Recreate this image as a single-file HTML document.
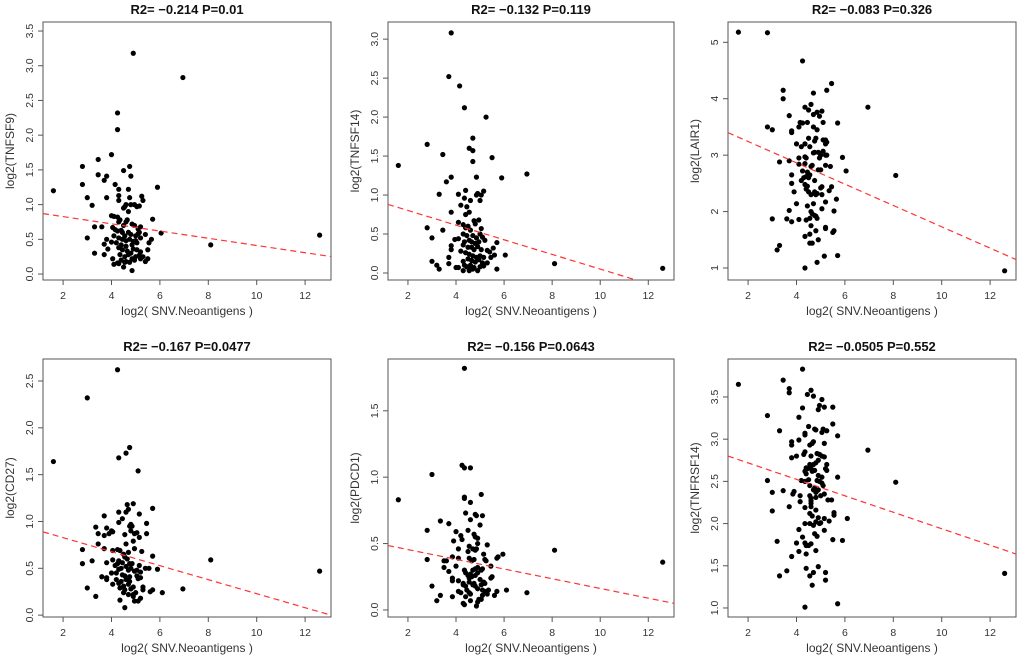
<!DOCTYPE html>
<html><head><meta charset="utf-8"><style>
html,body{margin:0;padding:0;background:#fff;}
svg{display:block;font-family:"Liberation Sans",Arial,sans-serif;}
</style></head><body>
<svg id="chart" width="1020" height="657" viewBox="0 0 1020 657" xmlns="http://www.w3.org/2000/svg"></svg>
<script>
const xTicks=[2,4,6,8,10,12];
const xDomain=[1.17,13.07];
const titles=["R2= \u22120.214 P=0.01","R2= \u22120.132 P=0.119","R2= \u22120.083 P=0.326","R2= \u22120.167 P=0.0477","R2= \u22120.156 P=0.0643","R2= \u22120.0505 P=0.552"];
const yLabels=["log2(TNFSF9)","log2(TNFSF14)","log2(LAIR1)","log2(CD27)","log2(PDCD1)","log2(TNFRSF14)"];
const yDomains=[[-0.086,3.63],[-0.09,3.22],[0.787,5.36],[-0.02,2.735],[-0.053,1.89],[0.893,3.95]];
const yTicks1=[0,0.5,1.0,1.5,2.0,2.5,3.0,3.5];
const yTicks2=[0,0.5,1.0,1.5,2.0,2.5,3.0];
const yTicks3=[1,2,3,4,5];
const yTicks4=[0,0.5,1.0,1.5,2.0,2.5];
const yTicks5=[0,0.5,1.0,1.5];
const yTicks6=[1.0,1.5,2.0,2.5,3.0,3.5];
const fitSlopes=[-0.052,-0.094,-0.189,-0.0748,-0.0366,-0.0975];
const fitIntercepts=[0.931,0.99,3.62,0.977,0.528,2.914];
const p1=[[1.6,1.2],[4.9,3.18],[6.95,2.83],[4.25,2.32],[4.25,2.08],[4.0,1.72],[3.45,1.65],[2.8,1.55],[2.8,1.29],[3.45,1.43],[3.8,1.41],[3.7,1.35],[4.15,1.29],[4.5,1.49],[4.75,1.55],[4.8,1.41],[5.9,1.25],[3.0,1.1],[3.2,0.99],[3.8,1.1],[4.3,1.22],[4.3,1.13],[4.3,1.06],[4.7,1.22],[4.75,1.1],[5.25,1.12],[5.3,1.06],[5.7,0.79],[6.05,0.59],[8.1,0.42],[12.6,0.56],[3.3,0.68],[3.6,0.68],[3.0,0.52],[3.3,0.3],[3.7,0.43],[3.7,0.28],[3.8,0.5],[3.85,0.36],[4.0,0.46],[4.05,0.22],[4.1,0.14],[4.25,0.16],[4.5,0.1],[4.85,0.05],[5.4,0.18],[5.5,0.22],[5.65,0.5],[5.5,0.35],[5.55,0.45],[5.4,0.57],[4.0,0.84],[4.1,0.83],[4.25,0.82],[4.35,0.78],[4.3,0.75],[4.5,0.95],[4.55,0.97],[4.6,1.0],[4.7,0.9],[4.8,1.0],[4.95,1.0],[5.05,0.97],[5.15,0.98],[4.5,0.7],[4.6,0.75],[4.65,0.78],[4.85,0.72],[4.95,0.7],[5.1,0.65],[5.2,0.68],[5.15,0.6],[4.05,0.67],[4.15,0.64],[4.25,0.62],[4.4,0.63],[4.45,0.6],[4.55,0.55],[4.7,0.6],[4.8,0.57],[5.0,0.55],[5.1,0.58],[4.1,0.55],[4.3,0.52],[4.45,0.5],[4.6,0.48],[4.75,0.5],[4.9,0.47],[5.0,0.48],[5.2,0.52],[4.2,0.45],[4.4,0.42],[4.6,0.4],[4.85,0.42],[5.05,0.45],[4.3,0.38],[4.45,0.35],[4.65,0.33],[4.8,0.3],[4.9,0.36],[5.05,0.35],[5.2,0.32],[4.35,0.28],[4.55,0.25],[4.7,0.28],[4.85,0.22],[5.0,0.25],[5.15,0.27],[5.3,0.25],[4.4,0.2],[4.6,0.18],[4.75,0.17],[4.95,0.2],[5.2,0.22],[4.3,0.15],[4.55,0.17]];
const p2=[[1.6,1.38],[3.8,3.08],[3.7,2.52],[4.15,2.4],[4.35,2.12],[5.25,2.0],[2.8,1.65],[3.45,1.52],[4.7,1.73],[4.55,1.6],[4.7,1.57],[4.7,1.43],[5.5,1.48],[3.8,1.23],[3.6,1.17],[4.85,1.23],[5.9,1.22],[6.95,1.27],[3.3,1.01],[4.1,1.01],[4.35,0.96],[4.4,1.06],[4.6,0.93],[4.85,1.0],[4.9,1.02],[5.0,0.93],[5.05,1.0],[5.15,1.05],[3.8,0.78],[4.2,0.87],[4.45,0.85],[4.4,0.75],[4.55,0.78],[4.1,0.65],[2.8,0.58],[3.0,0.45],[3.45,0.55],[3.0,0.15],[3.2,0.1],[3.3,0.05],[3.7,0.2],[3.7,0.12],[3.8,0.35],[3.8,0.3],[3.95,0.43],[4.0,0.07],[4.1,0.07],[4.3,0.03],[4.55,0.03],[4.9,0.03],[5.3,0.13],[5.7,0.05],[5.7,0.39],[5.55,0.32],[5.6,0.23],[6.05,0.23],[8.1,0.12],[12.6,0.06],[4.3,0.62],[4.4,0.58],[4.5,0.6],[4.6,0.55],[4.75,0.67],[4.8,0.63],[4.95,0.68],[5.05,0.57],[5.0,0.5],[4.3,0.5],[4.45,0.48],[4.7,0.48],[4.85,0.45],[5.1,0.46],[5.2,0.42],[4.1,0.44],[4.35,0.4],[4.55,0.42],[4.65,0.4],[4.8,0.38],[4.95,0.4],[4.3,0.36],[4.5,0.33],[4.65,0.33],[4.75,0.3],[4.9,0.34],[5.05,0.3],[5.3,0.29],[5.4,0.27],[4.2,0.28],[4.4,0.26],[4.55,0.24],[4.7,0.22],[4.85,0.2],[5.0,0.22],[5.15,0.2],[5.45,0.2],[4.3,0.15],[4.5,0.18],[4.65,0.16],[4.8,0.14],[4.95,0.17],[5.1,0.13],[4.35,0.1],[4.45,0.08],[4.6,0.1],[4.75,0.07],[5.0,0.08],[5.15,0.09],[4.55,0.05],[4.7,0.05]];
const p3=[[1.6,5.18],[2.8,5.17],[4.25,4.67],[5.45,4.27],[5.25,4.15],[3.45,4.15],[3.45,4.0],[4.7,4.1],[4.6,3.9],[4.35,3.85],[4.5,3.8],[4.7,3.72],[4.85,3.76],[5.05,3.78],[4.95,3.69],[3.7,3.7],[6.95,3.85],[4.15,3.58],[4.25,3.57],[4.45,3.58],[5.1,3.58],[5.7,3.57],[4.1,3.5],[4.7,3.5],[4.85,3.45],[2.8,3.5],[3.0,3.45],[3.8,3.43],[3.8,3.4],[4.5,3.3],[4.8,3.3],[4.75,3.25],[5.1,3.27],[5.2,3.27],[5.2,3.2],[5.25,3.23],[4.0,3.2],[4.2,3.15],[4.35,3.2],[4.55,3.15],[5.2,3.0],[5.25,3.0],[4.9,3.05],[4.95,2.95],[5.0,3.0],[5.1,3.07],[4.7,3.04],[4.75,3.05],[4.1,2.95],[4.35,2.97],[4.4,2.95],[3.7,2.9],[3.3,2.88],[5.9,2.96],[4.1,2.84],[4.35,2.85],[4.6,2.8],[4.65,2.82],[5.2,2.82],[5.4,2.8],[4.25,2.72],[4.45,2.7],[4.55,2.65],[4.9,2.74],[5.0,2.74],[6.05,2.72],[8.1,2.64],[3.8,2.65],[4.3,2.6],[4.4,2.62],[4.5,2.6],[4.2,2.55],[4.75,2.55],[3.8,2.5],[4.35,2.48],[4.45,2.45],[5.05,2.44],[5.0,2.42],[5.45,2.44],[3.9,2.35],[4.4,2.4],[4.5,2.35],[4.75,2.35],[4.8,2.3],[4.85,2.32],[4.6,2.3],[5.05,2.3],[5.35,2.37],[5.65,2.22],[4.0,2.14],[4.45,2.1],[4.7,2.14],[5.2,2.17],[3.7,2.02],[4.6,2.0],[4.65,1.96],[4.75,1.93],[4.8,1.92],[5.05,2.05],[5.55,2.01],[3.0,1.87],[3.6,1.87],[3.8,1.82],[4.1,1.86],[4.4,1.85],[4.55,1.88],[4.6,1.75],[4.85,1.88],[5.2,1.72],[5.2,1.7],[4.8,1.66],[5.5,1.63],[5.55,1.66],[4.35,1.56],[4.55,1.6],[4.55,1.44],[4.65,1.44],[4.9,1.5],[3.3,1.4],[3.2,1.32],[5.15,1.21],[5.7,1.22],[4.85,1.1],[4.35,1.0],[12.6,0.95]];
const p4=[[1.6,1.64],[4.25,2.62],[3.0,2.32],[4.75,1.79],[4.6,1.73],[4.3,1.68],[5.1,1.54],[4.65,1.18],[4.9,1.19],[5.7,1.14],[4.3,1.1],[4.6,1.1],[4.7,1.13],[5.15,1.08],[3.7,1.06],[4.45,1.03],[4.3,0.99],[4.8,0.97],[4.75,0.95],[4.85,0.95],[5.45,0.98],[3.35,0.94],[3.8,0.93],[4.0,0.9],[4.05,0.89],[3.9,0.87],[4.55,0.86],[3.45,0.87],[3.7,0.85],[4.8,0.9],[4.95,0.87],[5.05,0.88],[5.15,0.83],[5.45,0.87],[4.9,0.79],[4.6,0.76],[3.45,0.76],[3.7,0.71],[2.8,0.7],[4.05,0.69],[4.25,0.7],[4.35,0.69],[4.95,0.71],[5.25,0.68],[4.5,0.65],[4.7,0.67],[4.55,0.62],[4.65,0.6],[5.7,0.63],[3.2,0.58],[2.8,0.55],[3.8,0.56],[4.05,0.59],[4.3,0.58],[4.25,0.55],[4.15,0.53],[4.45,0.56],[4.75,0.55],[4.85,0.55],[5.15,0.53],[8.1,0.59],[4.3,0.49],[4.4,0.5],[4.6,0.52],[4.7,0.48],[4.8,0.5],[4.95,0.47],[5.05,0.48],[5.2,0.46],[5.4,0.5],[5.55,0.5],[5.9,0.49],[12.6,0.47],[4.0,0.45],[4.2,0.45],[4.45,0.43],[4.55,0.42],[4.75,0.41],[5.05,0.42],[5.2,0.4],[3.6,0.41],[3.8,0.38],[3.8,0.4],[4.2,0.38],[4.4,0.36],[4.6,0.38],[4.75,0.36],[5.1,0.39],[4.05,0.33],[4.3,0.34],[4.5,0.31],[4.7,0.33],[4.9,0.3],[5.3,0.3],[3.0,0.29],[4.35,0.29],[4.55,0.27],[4.8,0.28],[5.3,0.27],[5.6,0.25],[5.7,0.27],[6.95,0.28],[4.5,0.24],[4.7,0.22],[4.9,0.22],[5.0,0.24],[6.1,0.24],[3.35,0.2],[4.9,0.2],[5.2,0.18],[4.35,0.16],[4.95,0.15],[5.1,0.15],[4.55,0.08]];
const p5=[[1.6,0.83],[4.35,1.82],[4.25,1.09],[4.35,1.07],[4.6,1.07],[3.0,1.02],[5.05,0.87],[4.35,0.85],[4.35,0.84],[4.6,0.81],[4.4,0.73],[4.8,0.72],[4.85,0.71],[5.1,0.71],[4.6,0.68],[3.35,0.67],[3.7,0.65],[5.0,0.64],[2.8,0.6],[4.0,0.59],[4.5,0.6],[4.2,0.56],[4.25,0.53],[4.75,0.57],[4.8,0.55],[4.9,0.54],[3.9,0.52],[4.9,0.5],[5.3,0.49],[4.55,0.48],[4.7,0.46],[4.8,0.45],[4.85,0.46],[4.1,0.46],[4.5,0.44],[5.95,0.42],[5.75,0.4],[5.7,0.39],[8.1,0.45],[2.8,0.38],[3.5,0.37],[3.6,0.37],[3.85,0.4],[4.1,0.39],[4.55,0.39],[4.65,0.37],[4.75,0.38],[5.2,0.38],[5.25,0.37],[5.15,0.42],[12.6,0.36],[3.5,0.32],[3.7,0.29],[4.0,0.33],[4.35,0.3],[4.4,0.28],[4.6,0.27],[4.7,0.3],[4.8,0.31],[4.9,0.32],[5.05,0.3],[5.1,0.31],[5.45,0.33],[4.5,0.26],[4.55,0.24],[4.65,0.25],[4.8,0.26],[4.9,0.28],[5.0,0.23],[5.5,0.25],[5.45,0.24],[3.85,0.24],[3.85,0.22],[4.1,0.22],[4.3,0.2],[4.4,0.18],[4.55,0.21],[4.7,0.19],[4.8,0.18],[5.05,0.19],[5.15,0.21],[5.2,0.2],[4.3,0.19],[4.75,0.2],[3.0,0.18],[4.1,0.14],[4.2,0.13],[4.45,0.15],[4.55,0.13],[4.9,0.16],[5.1,0.15],[5.2,0.14],[5.35,0.15],[5.7,0.14],[6.1,0.15],[6.95,0.13],[3.35,0.11],[3.85,0.1],[4.4,0.1],[4.6,0.12],[5.1,0.11],[5.3,0.12],[5.6,0.11],[3.2,0.07],[4.3,0.05],[4.35,0.04],[4.6,0.07],[4.9,0.06],[4.95,0.08],[5.05,0.08],[4.85,0.03]];
const p6=[[1.6,3.65],[4.25,3.83],[3.45,3.7],[3.7,3.6],[3.7,3.55],[4.6,3.58],[4.45,3.53],[4.7,3.51],[5.05,3.47],[4.25,3.37],[4.95,3.4],[4.9,3.35],[5.15,3.38],[5.5,3.38],[2.8,3.28],[4.1,3.26],[5.5,3.18],[4.5,3.15],[3.3,3.1],[4.35,3.07],[4.35,3.05],[4.75,3.12],[4.8,3.11],[5.05,3.08],[5.1,3.12],[5.25,3.1],[5.7,3.04],[3.8,2.97],[3.8,2.93],[4.1,2.99],[4.55,2.93],[4.65,2.95],[4.7,2.97],[5.15,2.95],[6.95,2.87],[4.3,2.82],[4.35,2.85],[4.6,2.8],[4.85,2.83],[4.95,2.82],[5.05,2.8],[5.15,2.79],[3.8,2.78],[4.0,2.8],[4.55,2.7],[4.7,2.7],[4.8,2.72],[4.9,2.75],[5.25,2.7],[4.4,2.66],[4.45,2.65],[4.6,2.65],[4.65,2.62],[4.75,2.63],[5.2,2.65],[5.25,2.63],[4.35,2.62],[4.4,2.59],[4.9,2.57],[5.05,2.55],[5.7,2.55],[2.8,2.51],[4.2,2.51],[4.35,2.5],[4.5,2.52],[4.85,2.51],[4.95,2.5],[5.05,2.48],[5.1,2.45],[8.1,2.49],[4.55,2.45],[4.7,2.4],[4.8,2.37],[4.85,2.39],[4.9,2.4],[4.75,2.42],[3.0,2.37],[3.45,2.39],[3.85,2.35],[3.9,2.38],[4.15,2.33],[4.55,2.33],[4.6,2.3],[4.8,2.31],[5.0,2.33],[5.15,2.35],[5.3,2.28],[5.45,2.28],[4.15,2.26],[4.6,2.27],[4.6,2.24],[4.6,2.2],[3.7,2.2],[4.35,2.19],[4.55,2.12],[4.8,2.16],[3.0,2.15],[5.55,2.13],[5.55,2.1],[4.65,2.09],[4.9,2.07],[5.15,2.06],[6.1,2.06],[4.35,2.0],[4.55,2.0],[4.7,1.98],[4.8,2.02],[4.95,2.0],[5.0,2.01],[5.35,2.03],[4.1,1.93],[4.75,1.88],[4.85,1.85],[5.15,1.92],[4.25,1.84],[3.2,1.79],[4.0,1.77],[4.35,1.77],[4.4,1.74],[4.5,1.74],[4.6,1.76],[5.5,1.81],[5.9,1.8],[4.1,1.67],[4.4,1.64],[4.8,1.68],[3.8,1.61],[4.9,1.49],[4.4,1.47],[3.6,1.44],[4.7,1.42],[5.2,1.42],[3.3,1.38],[4.55,1.38],[5.2,1.33],[4.65,1.27],[12.6,1.41],[4.35,1.01],[5.7,1.05]];

const allPoints=[p1,p2,p3,p4,p5,p6];
const allYTicks=[yTicks1,yTicks2,yTicks3,yTicks4,yTicks5,yTicks6];
const NS="http://www.w3.org/2000/svg";
const svg=document.getElementById('chart');
function mk(tag,attrs,parent){const e=document.createElementNS(NS,tag);for(const k in attrs)e.setAttribute(k,attrs[k]);(parent||svg).appendChild(e);return e;}
const colL=[43,388,728], colR=[331,674,1016];
const rowT=[22,359], rowB=[280,617];
const gcol="#555";
for(let i=0;i<6;i++){
  const c=i%3, r=Math.floor(i/3);
  const L=colL[c],R=colR[c],T=rowT[r],B=rowB[r];
  const yd=yDomains[i];
  const sx=v=>L+(v-xDomain[0])/(xDomain[1]-xDomain[0])*(R-L);
  const sy=v=>B-(v-yd[0])/(yd[1]-yd[0])*(B-T);
  const g=mk('g',{});
  
  
  const cp=mk('clipPath',{id:'clip'+i},g);
  mk('rect',{x:L,y:T,width:R-L,height:B-T},cp);
  const t=mk('text',{x:(L+R)/2,y:T-8,'text-anchor':'middle','font-size':'13','font-weight':'bold',fill:'#111'},g);
  t.textContent=titles[i];
  
  
  const box=mk('rect',{x:L,y:T,width:R-L,height:B-T,fill:'none',stroke:gcol,'stroke-width':'1'},g);
  
  
  const xa=mk('g',{},g);
  
  
  xTicks.forEach(v=>{
    mk('line',{x1:sx(v),x2:sx(v),y1:B,y2:B+5,stroke:gcol},xa);
    const tl=mk('text',{x:sx(v),y:B+19,'text-anchor':'middle','font-size':'10.5',fill:'#333'},xa);
    tl.textContent=v;
    
    
  });
  const xt=mk('text',{x:(L+R)/2,y:B+35,'text-anchor':'middle','font-size':'12',fill:'#333'},g);
  xt.textContent='log2( SNV.Neoantigens )';
  
  
  const ya=mk('g',{},g);
  
  
  const ticks=allYTicks[i];
  ticks.forEach(v=>{
    mk('line',{x1:L,x2:L-5,y1:sy(v),y2:sy(v),stroke:gcol},ya);
    const lab=(i===2)?String(v):v.toFixed(1);
    const tl=mk('text',{x:0,y:0,'text-anchor':'middle','font-size':'10.5',fill:'#333',transform:'translate('+(L-10)+','+sy(v)+') rotate(-90)'},ya);
    tl.textContent=lab;
    
    
  });
  const yt=mk('text',{x:0,y:0,'text-anchor':'middle','font-size':'12',fill:'#333',transform:'translate('+(L-29)+','+((T+B)/2)+') rotate(-90)'},g);
  yt.textContent=yLabels[i];
  
  
  const pts=mk('g',{fill:'#000'},g);
  
  
  allPoints[i].forEach(p=>{
    const ci=mk('circle',{cx:sx(p[0]),cy:sy(p[1]),r:2.6},pts);
    
    
  });
  const x0=xDomain[0],x1=xDomain[1];
  const ln=mk('line',{x1:sx(x0),y1:sy(fitIntercepts[i]+fitSlopes[i]*x0),x2:sx(x1),y2:sy(fitIntercepts[i]+fitSlopes[i]*x1),stroke:'#ff3333','stroke-width':'1.2','stroke-dasharray':'6,4','clip-path':'url(#clip'+i+')'},g);
  
  
}
</script>
</body></html>
